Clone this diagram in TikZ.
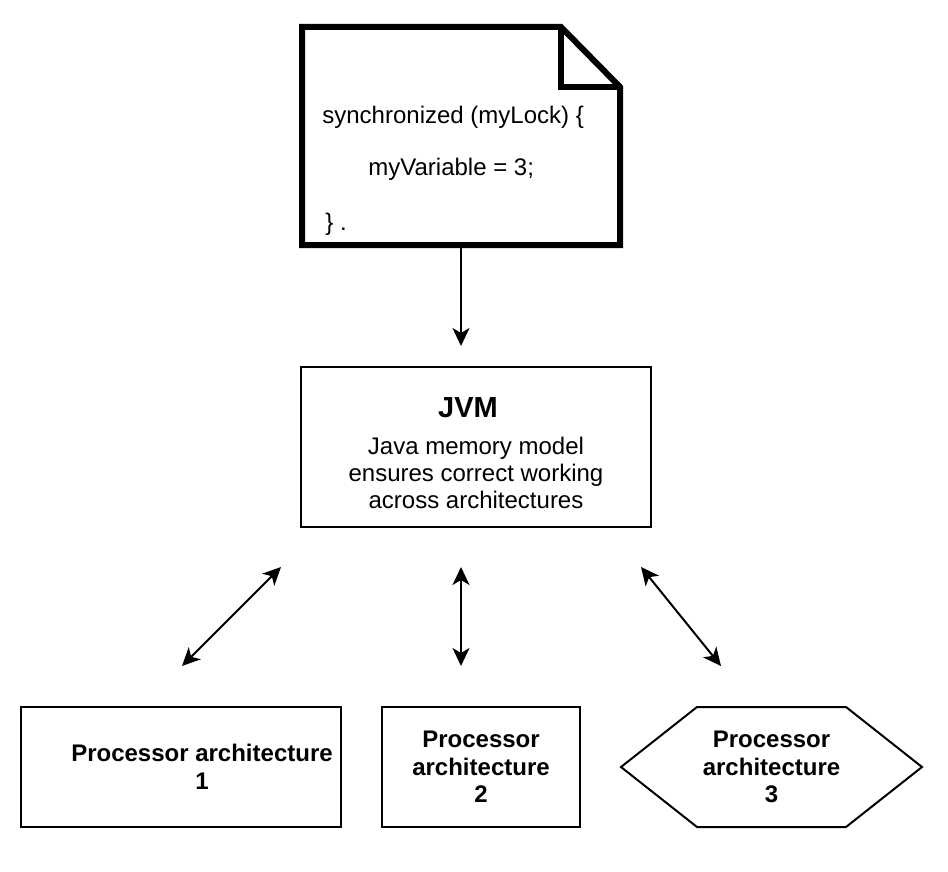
\documentclass[tikz,border=0pt]{standalone}
\usepackage{fontspec}
\setmainfont{Liberation Sans}
\usetikzlibrary{arrows.meta}
\usetikzlibrary{positioning}
\tikzset{note frame/.style={
    minimum width=159pt, minimum height=109pt,
    inner sep=0pt, outer sep=0pt
}}
\tikzset{note line/.style={
    line width=3pt, draw=black
}}
\tikzset{code text/.style={
    anchor=north west, inner sep=0pt, align=left,
    font=\fontsize{12pt}{14pt}\selectfont
}}
\tikzset{jvm box/.style={
    draw=black, line width=1pt,
    minimum width=175pt, minimum height=80pt,
    align=center, font=\fontsize{12pt}{13.5pt}\selectfont
}}
\tikzset{proc box/.style={
    draw=black, line width=1pt,
    minimum height=60pt, inner sep=2pt,
    align=center, font=\fontsize{12pt}{13.8pt}\selectfont\bfseries
}}
\tikzset{proc hexagon/.style={
    minimum width=150.5pt, minimum height=60pt,
    inner sep=2pt, outer sep=0pt,
    align=center, font=\fontsize{12pt}{13.8pt}\selectfont\bfseries
}}
\tikzset{link/.style={
    line width=1pt, draw=black
}}
\begin{document}
\begin{tikzpicture}[x=0.5pt, y=-0.5pt,
    >={Stealth[length=9pt, width=8.5pt, inset=2.5pt]}]
    \useasboundingbox (0,0) rectangle (948,872);

    % the code snippet
    \node (note)   [note frame]  at(461,136) {};
    \draw [note line] (note.north west) -- ([xshift=-29.5pt]note.north east)
        -- ([yshift=-30pt]note.north east) -- (note.south east)
        -- (note.south west) -- cycle;
    \draw [note line] ([xshift=-29.5pt]note.north east)
        -- ([xshift=-29.5pt, yshift=-30pt]note.north east)
        -- ([yshift=-30pt]note.north east);
    \node (code)   [code text]   at(322,105.5) {synchronized (myLock) \{\\[12pt]
        \hspace*{23pt}myVariable = 3;\\[13.5pt]
        \hspace*{1.5pt}\} .};

    \node (jvm)    [jvm box]     at(476,447) {{\fontsize{14.5pt}{17pt}\selectfont\bfseries\rule{0pt}{16.4pt}JVM\hspace*{8pt}}\\[5pt]
        Java memory model\\ensures correct working\\across architectures};

    % processors
    \node (proc1)  [proc box, minimum width=160pt] at(181,767) {\hspace*{21pt}Processor architecture\\\hspace*{21pt}1};
    \node (proc2)  [proc box, minimum width=99pt]  at(481,767) {Processor\\architecture\\2};
    \node (proc3)  [proc hexagon]                  at(771.5,767) {Processor\\architecture\\3};
    \draw [link] (proc3.west) -- ([xshift=38pt]proc3.north west)
        -- ([xshift=-38pt]proc3.north east) -- (proc3.east)
        -- ([xshift=-38pt]proc3.south east) -- ([xshift=38pt]proc3.south west)
        -- cycle;

    % arrow ends
    \coordinate (jvmin)   at(461,346);
    \coordinate (ltop)    at(281,567);
    \coordinate (lbot)    at(182,666);
    \coordinate (mtop)    at(461,567);
    \coordinate (mbot)    at(461,666);
    \coordinate (rtop)    at(641,567);
    \coordinate (rbot)    at(721,666);

    % edges
    \path [link]
      (note.south) edge [->] (jvmin)
      (ltop) edge [<->] (lbot)
      (mtop) edge [<->] (mbot)
      (rtop) edge [<->] (rbot)
      ;
\end{tikzpicture}
\end{document}
